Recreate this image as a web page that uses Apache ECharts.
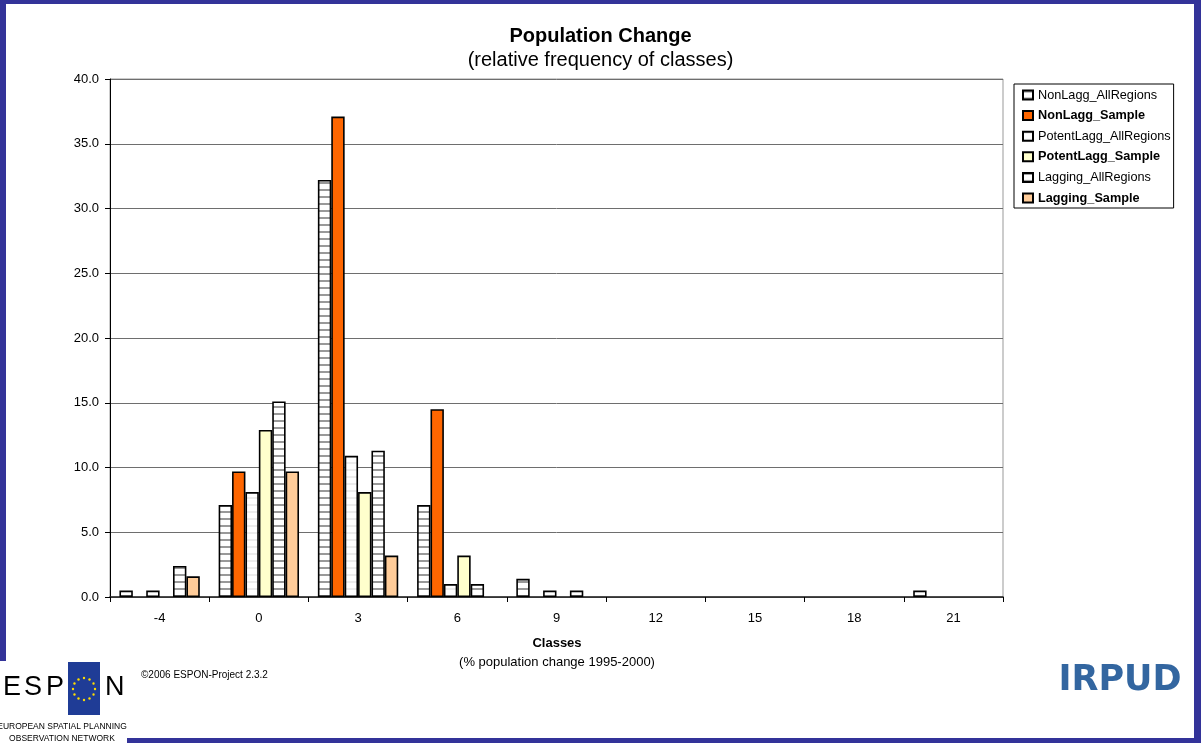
<!DOCTYPE html>
<html>
<head>
<meta charset="utf-8">
<script src="https://cdn.jsdelivr.net/npm/echarts@6/dist/echarts.min.js"></script>
<style>
html,body{margin:0;padding:0;background:#fff;}
#chart{width:1201px;height:743px;}
</style>
</head>
<body>
<div id="chart"></div>
<script>
// ---- data ----
const categories = ['-4', '0', '3', '6', '9', '12', '15', '18', '21'];
const seriesNames = ['NonLagg_AllRegions', 'NonLagg_Sample', 'PotentLagg_AllRegions', 'PotentLagg_Sample', 'Lagging_AllRegions', 'Lagging_Sample'];
const nonLaggAll     = [0.5, 7.1, 32.2, 7.1, 1.4, 0, 0, 0, 0.5];
const nonLaggSample  = [0, 9.7, 37.1, 14.5, 0, 0, 0, 0, 0];
const potentLaggAll  = [0.5, 8.1, 10.9, 1.0, 0.5, 0, 0, 0, 0];
const potentLaggSample = [0, 12.9, 8.1, 3.2, 0, 0, 0, 0, 0];
const laggingAll     = [2.4, 15.1, 11.3, 1.0, 0.5, 0, 0, 0, 0];
const laggingSample  = [1.6, 9.7, 3.2, 0, 0, 0, 0, 0, 0];
const yTicks = [0, 5, 10, 15, 20, 25, 30, 35, 40];

function stripe(lineColor) {
  const c = document.createElement('canvas');
  c.width = 4; c.height = 7;
  const ctx = c.getContext('2d');
  ctx.fillStyle = '#fff'; ctx.fillRect(0, 0, 4, 7);
  ctx.fillStyle = lineColor; ctx.fillRect(0, 0, 4, 2);
  return { image: c, repeat: 'repeat' };
}

const fills = [stripe('#999999'), '#FF6600', stripe('#ececec'), '#FFFFCC', stripe('#999999'), '#FFCC99'];
const values = [nonLaggAll, nonLaggSample, potentLaggAll, potentLaggSample, laggingAll, laggingSample];

const FONT = 'Liberation Sans, Arial, sans-serif';
const chart = echarts.init(document.getElementById('chart'), null, { renderer: 'canvas' });

const stars = [];
for (let i = 0; i < 12; i++) {
  const a = i * Math.PI / 6;
  stars.push({ type: 'circle', shape: { cx: 84 + 11 * Math.cos(a), cy: 689 + 11 * Math.sin(a), r: 1.2 }, style: { fill: '#FFDD00' }, z: 102 });
}

chart.setOption({
  animation: false,
  backgroundColor: '#fff',
  title: {
    text: 'Population Change',
    subtext: '(relative frequency of classes)',
    left: 'center',
    top: 21,
    itemGap: 4,
    textStyle: { fontFamily: FONT, fontSize: 20, fontWeight: 'bold', color: '#000' },
    subtextStyle: { fontFamily: FONT, fontSize: 20, color: '#000' }
  },
  legend: {
    orient: 'vertical',
    left: 1014,
    top: 84,
    padding: [4, 3, 3, 8],
    itemGap: 6.6,
    itemWidth: 10,
    itemHeight: 9,
    icon: 'rect',
    borderColor: '#000',
    borderWidth: 1,
    backgroundColor: '#fff',
    data: seriesNames,
    formatter: function (n) { return n.indexOf('Sample') >= 0 ? '{b|' + n + '}' : '{n|' + n + '}'; },
    textStyle: {
      fontFamily: FONT, fontSize: 12.7, color: '#000', lineHeight: 14,
      rich: {
        n: { fontFamily: FONT, fontSize: 12.7, color: '#000', lineHeight: 14 },
        b: { fontFamily: FONT, fontSize: 12.7, fontWeight: 'bold', color: '#000', lineHeight: 14 }
      }
    }
  },
  grid: {
    left: 110, right: 198, top: 79, bottom: 146,
    show: true, borderColor: '#999', borderWidth: 1
  },
  xAxis: {
    type: 'category',
    data: categories,
    axisLine: { lineStyle: { color: '#222', width: 1.6 } },
    axisTick: { show: true, length: 5, lineStyle: { color: '#000' } },
    axisLabel: { fontFamily: FONT, fontSize: 13, color: '#000', margin: 15 },
    splitLine: { show: false }
  },
  yAxis: {
    type: 'value',
    min: yTicks[0],
    max: yTicks[yTicks.length - 1],
    interval: 5,
    axisLine: { show: true, lineStyle: { color: '#000', width: 1 } },
    axisTick: { show: true, length: 5, lineStyle: { color: '#000' } },
    axisLabel: { fontFamily: FONT, fontSize: 13, color: '#000', margin: 11, formatter: v => v.toFixed(1) },
    splitLine: { show: true, lineStyle: { color: '#6e6e6e', width: 1 } }
  },
  series: seriesNames.map((name, i) => ({
    name: name,
    type: 'bar',
    data: values[i].map(v => (v === 0 ? null : v)),
    barGap: '0%',
    barCategoryGap: '19%',
    itemStyle: { color: fills[i], borderColor: '#000', borderWidth: 1.6 },
    emphasis: { disabled: true }
  })),
  graphic: [
    // frame
    { type: 'rect', shape: { x: 0, y: 0, width: 1201, height: 4 }, style: { fill: '#333399' }, z: 100, silent: true },
    { type: 'rect', shape: { x: 0, y: 0, width: 6, height: 743 }, style: { fill: '#333399' }, z: 100, silent: true },
    { type: 'rect', shape: { x: 1194, y: 0, width: 7, height: 743 }, style: { fill: '#333399' }, z: 100, silent: true },
    { type: 'rect', shape: { x: 0, y: 738, width: 1201, height: 5 }, style: { fill: '#333399' }, z: 100, silent: true },
    // x-axis title
    { type: 'text', x: 557, y: 643, style: { text: 'Classes', font: 'bold 13px ' + FONT, fill: '#000', align: 'center', verticalAlign: 'middle' }, z: 100 },
    { type: 'text', x: 557, y: 662, style: { text: '(% population change 1995-2000)', font: '13px ' + FONT, fill: '#000', align: 'center', verticalAlign: 'middle' }, z: 100 },
    // ESPON logo
    { type: 'rect', shape: { x: 0, y: 661, width: 127, height: 82 }, style: { fill: '#fff' }, z: 101, silent: true },
    { type: 'text', x: 3, y: 688, style: { text: 'E', font: '27px ' + FONT, fill: '#000', verticalAlign: 'middle' }, z: 102 },
    { type: 'text', x: 24, y: 688, style: { text: 'S', font: '27px ' + FONT, fill: '#000', verticalAlign: 'middle' }, z: 102 },
    { type: 'text', x: 46, y: 688, style: { text: 'P', font: '27px ' + FONT, fill: '#000', verticalAlign: 'middle' }, z: 102 },
    { type: 'rect', shape: { x: 68, y: 662, width: 32, height: 53 }, style: { fill: '#1F3C96' }, z: 102, silent: true },
    { type: 'text', x: 105, y: 688, style: { text: 'N', font: '27px ' + FONT, fill: '#000', verticalAlign: 'middle' }, z: 102 },
    ...stars,
    { type: 'text', x: 62, y: 727, style: { text: 'EUROPEAN SPATIAL PLANNING', font: '8.5px ' + FONT, fill: '#000', align: 'center', verticalAlign: 'middle' }, z: 102 },
    { type: 'text', x: 62, y: 739, style: { text: 'OBSERVATION NETWORK', font: '8.5px ' + FONT, fill: '#000', align: 'center', verticalAlign: 'middle' }, z: 102 },
    { type: 'text', x: 141, y: 675, style: { text: '©2006 ESPON-Project 2.3.2', font: '10px ' + FONT, fill: '#000', verticalAlign: 'middle' }, z: 102 },
    // IRPUD logo
    { type: 'text', x: 1120, y: 681, style: { text: 'IRPUD', font: 'bold 35px DejaVu Sans, sans-serif', fill: '#3366A0', align: 'center', verticalAlign: 'middle' }, z: 102 }
  ]
});
</script>
</body>
</html>
